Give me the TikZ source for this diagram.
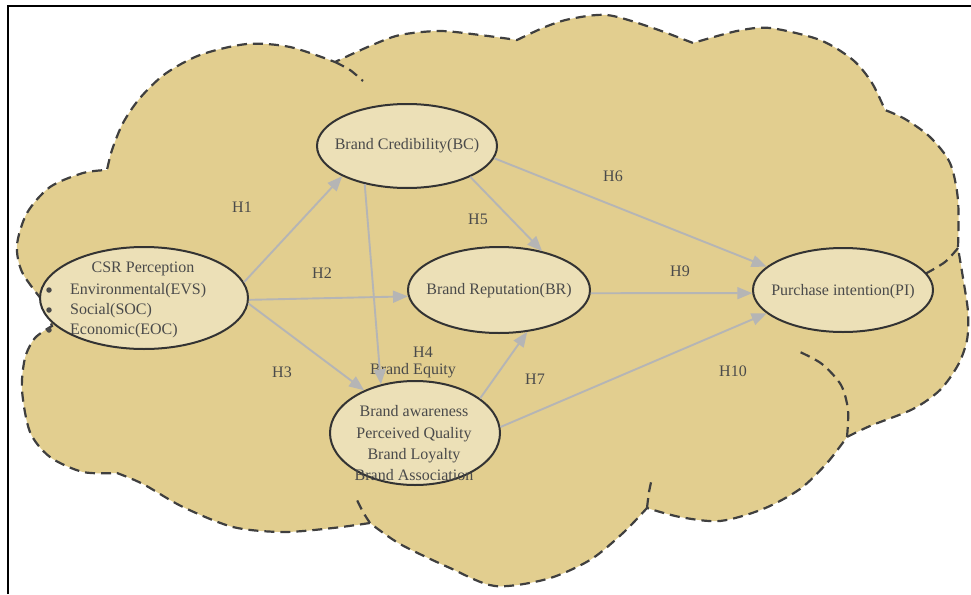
\documentclass[tikz,border=0pt]{standalone}
\usepackage{fontspec}
\setmainfont{Liberation Serif}
\usetikzlibrary{arrows.meta,shapes.geometric}
\definecolor{cloudc}{HTML}{E2CE8F}
\definecolor{ellc}{HTML}{ECE0B7}
\definecolor{txtc}{HTML}{4A4A4A}
\definecolor{arrc}{HTML}{B5B5B5}
\definecolor{dashc}{HTML}{3F3F3F}
\definecolor{ellline}{HTML}{333333}
\begin{document}
\begin{tikzpicture}[x=1pt,y=-1pt,
  ell/.style={ellipse, draw=ellline, line width=2pt, fill=ellc, inner sep=0pt},
  txt/.style={text=txtc, font=\fontsize{16}{20}\selectfont, inner sep=0pt, text height=11pt, text depth=3pt},
  hyp/.style={txt},
  link/.style={draw=arrc, line width=1.9pt, -{Triangle[length=15pt,width=12pt]}},
  cloudline/.style={draw=dashc, line width=2.2pt, dash pattern=on 10pt off 6pt},
  bullet/.style={circle, fill=txtc, inner sep=0pt, minimum size=5.5pt}]
\useasboundingbox (0,0) rectangle (971,594);
% frame
\draw[black, line width=1.4pt] (8,594) -- (8,6) -- (971,6);
% cloud
\draw[cloudline, fill=cloudc]
 plot[smooth] coordinates {(42,300) (22,272) (17,245) (27,213) (50,187) (83,173) (107,170)}
 -- plot[smooth] coordinates {(107,170) (112,150) (123,123) (140,98) (165,74) (200,55) (247,44) (290,47) (335,62)}
 -- plot[smooth] coordinates {(335,62) (370,46) (400,35) (440,31) (480,35) (517,40)}
 -- plot[smooth] coordinates {(517,40) (545,27) (570,19) (607,15) (650,27) (693,43)}
 -- plot[smooth] coordinates {(693,43) (737,31) (770,28) (820,40) (853,60) (872,83) (885,110)}
 -- plot[smooth] coordinates {(885,110) (905,119) (930,137) (950,163) (958,200) (958,248)}
 -- plot[smooth] coordinates {(958,248) (963,278) (968,312) (967,340) (958,365) (940,390) (913,409) (870,426) (847,437)}
 -- plot[smooth] coordinates {(847,437) (827,463) (800,489) (763,509) (720,521) (680,517) (647,508)}
 -- plot[smooth] coordinates {(647,508) (623,533) (590,560) (547,579) (495,586) (450,568) (400,544) (370,523)}
 -- plot[smooth] coordinates {(370,523) (333,528) (283,532) (233,527) (183,507) (143,484) (117,473)}
 -- plot[smooth] coordinates {(117,473) (83,472) (50,457) (30,432) (22,390) (25,358) (35,338) (52,326)}
 -- cycle;
% inner dashed arcs
\draw[cloudline] plot[smooth] coordinates {(335,62) (350,70) (363,81)};
\draw[cloudline] plot[smooth] coordinates {(958,248) (945,262) (925,274)};
\draw[cloudline] plot[smooth] coordinates {(847,437) (848,410) (841,385) (822,364) (800,352)};
\draw[cloudline] plot[smooth] coordinates {(647,508) (649,492) (652,478)};
\draw[cloudline] plot[smooth] coordinates {(370,523) (363,512) (357,500)};
% ellipses
\node[ell, minimum width=208pt, minimum height=102pt] (csr) at (144,298) {};
\node[ell, minimum width=180pt, minimum height=84pt] (bc) at (407,146) {};
\node[ell, minimum width=182pt, minimum height=86pt] (br) at (499,290) {};
\node[ell, minimum width=180pt, minimum height=84pt] (pi) at (843,290) {};
\node[ell, minimum width=170pt, minimum height=104pt] (be) at (415,433) {};
% texts
\node[txt] (bct) at (407,145) {Brand Credibility(BC)};
\node[txt] (brt) at (499,290) {Brand Reputation(BR)};
\node[txt] (pit) at (843,291) {Purchase intention(PI)};
\node[txt] (csrt) at (143,268) {CSR Perception};
\node[txt, anchor=west] (evs) at (70,290) {Environmental(EVS)};
\node[txt, anchor=west] (soc) at (70,310) {Social(SOC)};
\node[txt, anchor=west] (eoc) at (70,330) {Economic(EOC)};
\node[bullet] (b1) at (49,290) {};
\node[bullet] (b2) at (49,310) {};
\node[bullet] (b3) at (49,330) {};
\node[txt] (be1) at (414,412) {Brand awareness};
\node[txt] (be2) at (414,434) {Perceived Quality};
\node[txt] (be3) at (414,455) {Brand Loyalty};
\node[txt] (be4) at (414,476) {Brand Association};
\node[txt] (bet) at (413,370) {Brand Equity};
% hypothesis labels
\node[hyp] (h1) at (242,208) {H1};
\node[hyp] (h2) at (322,274) {H2};
\node[hyp] (h3) at (282,373) {H3};
\node[hyp] (h4) at (423,353) {H4};
\node[hyp] (h5) at (478,220) {H5};
\node[hyp] (h6) at (613,177) {H6};
\node[hyp] (h7) at (535,380) {H7};
\node[hyp] (h9) at (680,272) {H9};
\node[hyp] (h10) at (733,372) {H10};
% arrows
\draw[link] (csr.9) -- (bc.205);
\draw[link] (csr.-1) -- (br.184);
\draw[link] (csr.-3) -- (be.140);
\draw[link] (bc.222) -- (be.125);
\draw[link] (bc.-26) -- (br.42);
\draw[link] (bc.-8) -- (pi.163);
\draw[link] (br.-2) -- (pi.182);
\draw[link] (be.28) -- (br.-56);
\draw[link] (be.4) -- (pi.197);
\end{tikzpicture}
\end{document}
